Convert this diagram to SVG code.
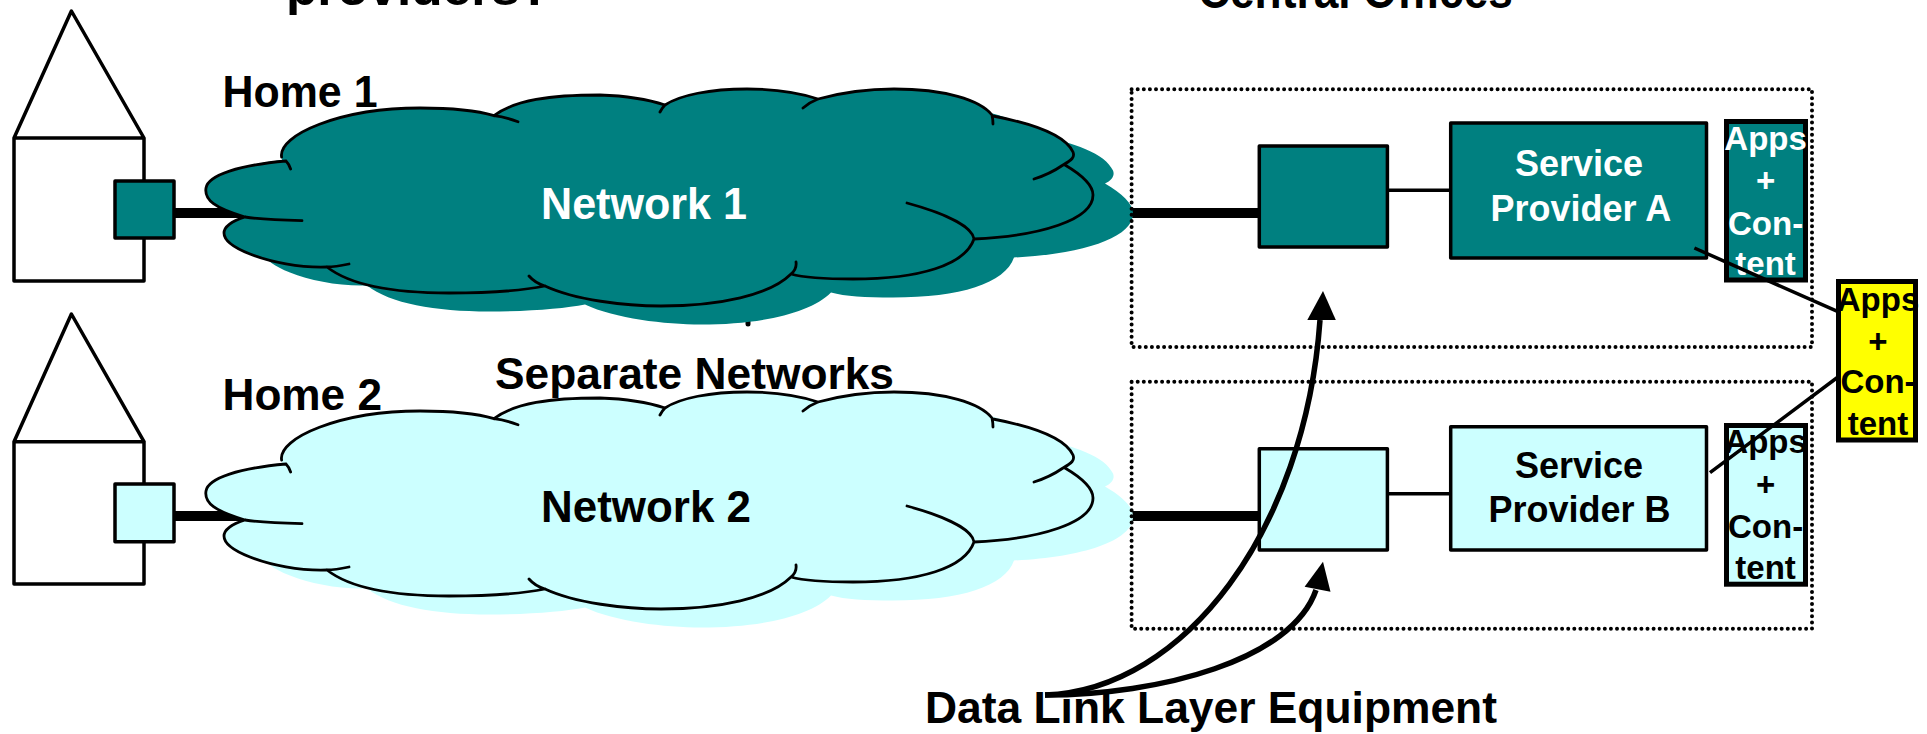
<svg xmlns="http://www.w3.org/2000/svg" width="1927" height="734" viewBox="0 0 1927 734">
<style>
text{font-family:"Liberation Sans",Arial,sans-serif;font-weight:700;fill:#000}
.w{fill:#fff}
.big{font-size:45px}
.top{font-size:50px}
.m{font-size:36px;text-anchor:middle}
.a{font-size:33px;text-anchor:middle}
.teal{fill:#008080}
.cyan{fill:#ccffff}
.box{stroke:#000;stroke-width:3.5;stroke-linejoin:round}
.ln{fill:none;stroke:#000;stroke-width:3.5;stroke-linejoin:round}
.apps{stroke:#000;stroke-width:5}
.thick{stroke:#000;stroke-width:10;fill:none}
.dot{fill:none;stroke:#000;stroke-width:4;stroke-linecap:round;stroke-dasharray:0 6.1}
.cl{fill:none;stroke:#000;stroke-width:2.8;stroke-linecap:round}
.arr{fill:none;stroke:#000;stroke-width:5.5}
</style>
<defs>
<path id="cf" d="M245 217C215 208 204 200 206 188C208 175 240 165 282 160C278 135 340 108 420 108C450 108 475 110 494 116C515 100 550 95 600 95C630 96 650 100 665 105C680 95 710 89 747 89C775 89 800 93 818 99C840 93 865 89 894 89C945 89 980 100 993 116C1035 124 1065 135 1073 152C1075 157 1072 162 1065 165C1082 175 1093 185 1093 195C1093 220 1040 236 974 239C965 265 920 279 853 279C825 279 805 278 791 274C770 295 720 306 661 306C625 306 575 300 545 286C525 290 490 293 449 293C395 293 350 285 327 267C300 268 270 262 250 254C232 247 224 240 224 233C224 227 232 221 245 217Z"/>
<path id="cs" d="M302 220.700C275 220 258 219 245 217C215 208 204 200 206 188C208 175 240 165 286 161Q289 164 290.600 169M281.600 157C278 135 340 108 420 108C450 108 475 110 494 115.700Q505 117 518 121.700M494 115.700C515 100 550 95 600 95C630 96 650 100 665 105Q662 108 660 112M665 105C680 95 710 89 747 89C775 89 800 93 818 99M803 108Q810 102 818 99C840 93 865 89 894 89C945 89 980 100 992 115Q993 120 993 124M993 116C1035 124 1065 135 1073 152C1075 157 1072 160 1063 165Q1050 174 1034 179M1065 165C1082 175 1093 185 1093 195C1093 220 1040 236 974 239M907 203C940 212 972 225 974 239C965 265 920 279 853 279C825 279 805 278 791 274M796 262Q797 269 791 274C770 295 720 306 661 306C625 306 575 300 545 286Q535 283 529 276M545 286C525 290 490 293 449 293C395 293 350 285 327 267M349 264Q335 267 327 267C300 268 270 262 250 254C232 247 224 240 224 233C224 227 232 221 245 217"/>
</defs>
<g id="title-left"><text class="top" x="286" y="5" textLength="265" lengthAdjust="spacingAndGlyphs">providers?</text></g>
<g id="title-right"><text class="top" x="1198" y="7.500" textLength="315" lengthAdjust="spacingAndGlyphs">Central Offices</text></g>
<g id="connectors-back">
<path class="thick" d="M169 213H260M1120 213H1259M169 516H260M1120 516H1259"/>
<circle cx="170" cy="213" r="5"/><circle cx="170" cy="516" r="5"/>
<path d="M748 315V324" stroke="#000" stroke-width="5" stroke-linecap="round"/>
</g>
<g id="home1">
<path class="ln" d="M14 138L71.400 11L144 138ZM14 138V281H144V138"/>
</g>
<g id="home2">
<path class="ln" d="M14 441.700L71.400 314L144 441.700ZM14 441.700V584H144V441.700"/>
</g>
<g id="network1">
<use href="#cf" class="teal" x="40" y="18.500"/>
<use href="#cf" class="teal"/>
<use href="#cs" class="cl"/>
<text class="big w" x="541" y="219" textLength="206" lengthAdjust="spacingAndGlyphs">Network 1</text>
</g>
<g id="network2">
<use href="#cf" class="cyan" x="40" y="321.500"/>
<use href="#cf" class="cyan" y="303"/>
<use href="#cs" class="cl" y="303"/>
<text class="big" x="541" y="522" textLength="210" lengthAdjust="spacingAndGlyphs">Network 2</text>
</g>
<g id="modem1"><rect class="teal box" x="115" y="181" width="59" height="57"/></g>
<g id="modem2"><rect class="cyan box" x="115" y="484" width="59" height="57.700"/></g>
<g id="home1-label"><text class="big" x="222.500" y="107" textLength="155" lengthAdjust="spacingAndGlyphs">Home 1</text></g>
<g id="home2-label"><text class="big" x="222.500" y="410" textLength="159.500" lengthAdjust="spacingAndGlyphs">Home 2</text></g>
<g id="separate-label"><text class="big" x="495" y="389" textLength="399" lengthAdjust="spacingAndGlyphs">Separate Networks</text></g>
<g id="co1"><rect class="dot" x="1131.600" y="89.300" width="680.400" height="257.700"/></g>
<g id="co2"><rect class="dot" x="1131.600" y="381.700" width="680.400" height="247"/></g>
<g id="dl1"><rect class="teal box" x="1259.300" y="146" width="128.100" height="101"/></g>
<g id="dl2"><rect class="cyan box" x="1259.300" y="448.700" width="128.100" height="101.300"/></g>
<g id="spA">
<rect class="teal box" x="1450.700" y="123" width="255.800" height="135"/>
<text class="m w" x="1579" y="175.700">Service</text>
<text class="m w" x="1580.800" y="220.700">Provider A</text>
</g>
<g id="spB">
<rect class="cyan box" x="1450.700" y="426.700" width="255.800" height="123.300"/>
<text class="m" x="1579" y="478">Service</text>
<text class="m" x="1579.500" y="521.700">Provider B</text>
</g>
<g id="apps1">
<rect class="teal apps" x="1726.500" y="121.500" width="79" height="158.500"/>
<text class="a w" x="1765.600" y="150">Apps</text><text class="a w" x="1765.600" y="192">+</text><text class="a w" x="1765.600" y="235">Con-</text><text class="a w" x="1765.600" y="275">tent</text>
</g>
<g id="apps2">
<rect class="cyan apps" x="1726.500" y="425.500" width="79" height="158.700"/>
<text class="a" x="1765.600" y="453">Apps</text><text class="a" x="1765.600" y="496">+</text><text class="a" x="1765.600" y="538">Con-</text><text class="a" x="1765.600" y="579">tent</text>
</g>
<g id="apps-shared">
<rect fill="#ff0" class="apps" x="1838.500" y="281.500" width="77" height="158.500"/>
<text class="a" x="1878" y="310.700">Apps</text><text class="a" x="1878" y="353">+</text><text class="a" x="1878" y="393">Con-</text><text class="a" x="1878" y="435">tent</text>
</g>
<g id="connectors">
<path class="ln" d="M1387.400 190.300H1450.700M1387.400 493.700H1450.700"/>
<path class="ln" d="M1694.400 248L1838 311.700M1710 472.700L1838 377"/>
<path class="arr" d="M1045 695C1185 690 1305 530 1320 320"/>
<path class="arr" d="M1045 695C1160 695 1292 660 1316 590"/>
<polygon points="1323,291 1307.300,320 1335.800,320"/>
<polygon points="1323,561.700 1304.600,586.700 1330.500,591.700"/>
</g>
<g id="dll-label"><text class="big" x="925" y="723" textLength="572" lengthAdjust="spacingAndGlyphs">Data Link Layer Equipment</text></g>
</svg>
